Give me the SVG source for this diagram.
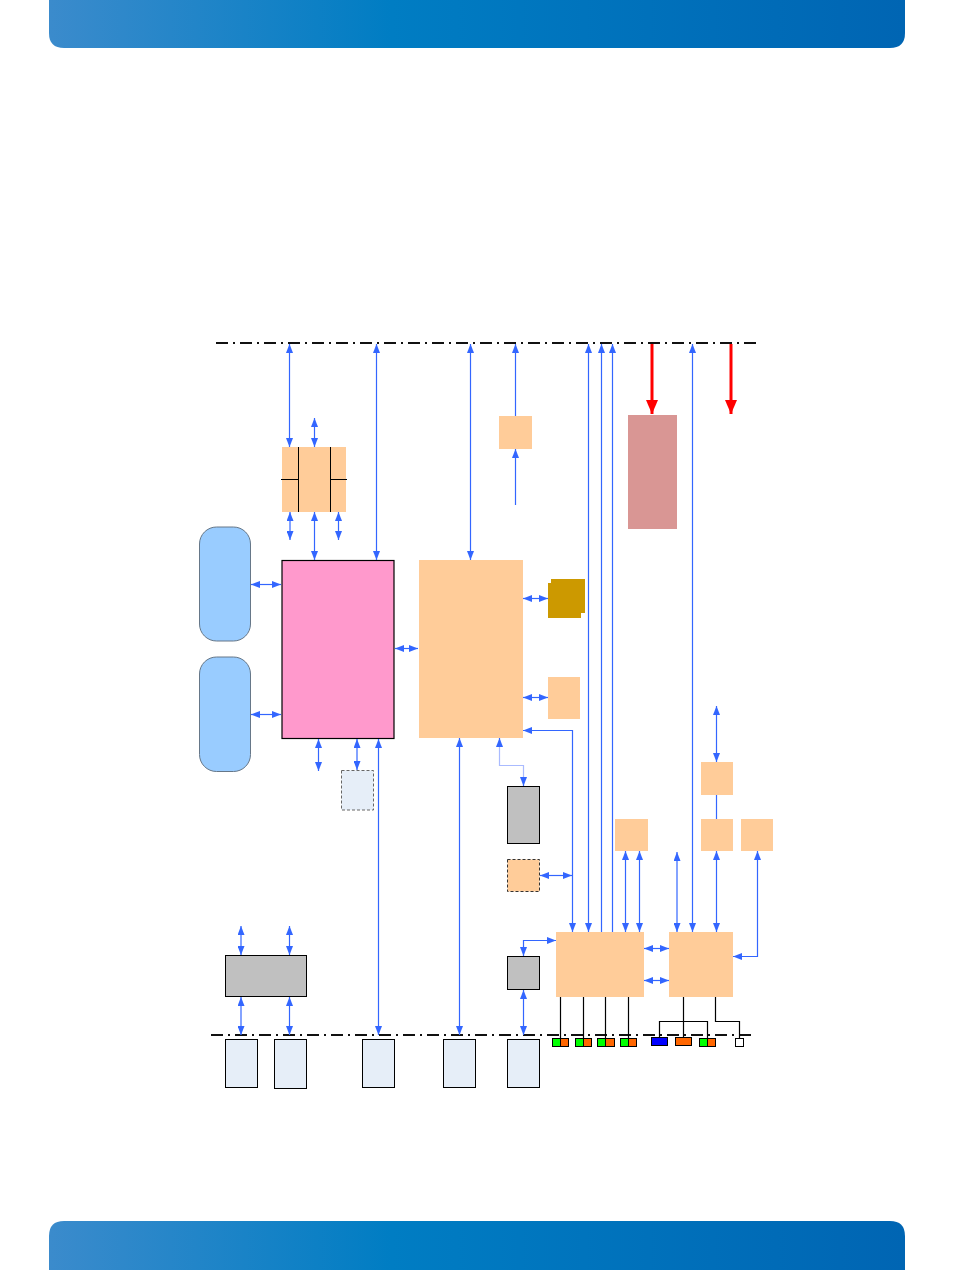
<svg xmlns="http://www.w3.org/2000/svg" width="954" height="1270" viewBox="0 0 954 1270">
<defs>
<linearGradient id="hdr" x1="0" y1="0" x2="1" y2="0">
<stop offset="0" stop-color="#3b8bcc"/>
<stop offset="0.4" stop-color="#007dc3"/>
<stop offset="1" stop-color="#0065b3"/>
</linearGradient>
<marker id="a" viewBox="0 0 9 7" refX="9" refY="3.5" markerWidth="9" markerHeight="7" markerUnits="userSpaceOnUse" orient="auto-start-reverse"><path d="M0,0 L9,3.5 L0,7 z" fill="#3366ff"/></marker>
<marker id="r" viewBox="0 0 14 12" refX="14" refY="6" markerWidth="14" markerHeight="12" markerUnits="userSpaceOnUse" orient="auto"><path d="M0,0 L14,6 L0,12 z" fill="#ff0000"/></marker>
<style>
.or{fill:#ffcc99}
.pale{fill:#e6eef8;stroke:#000;stroke-width:1}
.grey{fill:#c0c0c0;stroke:#000;stroke-width:1}
.w{fill:none;stroke:#3366ff;stroke-width:1.2}
.wl{fill:none;stroke:#aabbff;stroke-width:1.2}
.b2{marker-start:url(#a);marker-end:url(#a)}
.e{marker-end:url(#a)}
.s{marker-start:url(#a)}
.dd{fill:none;stroke:#111;stroke-width:2;stroke-dasharray:12 5 2 5}
.k{fill:none;stroke:#000;stroke-width:1.2}
.red{fill:none;stroke:#ff0000;stroke-width:3;marker-end:url(#r)}
.blk{fill:none;stroke:#000;stroke-width:1}
</style>
</defs>
<rect width="954" height="1270" fill="#fff"/>
<path d="M49,0 H905 V33 Q905,48 890,48 H64 Q49,48 49,33 Z" fill="url(#hdr)"/>
<path d="M49,1270 V1236 Q49,1221 64,1221 H890 Q905,1221 905,1236 V1270 Z" fill="url(#hdr)"/>

<g id="busTop"><line class="dd" x1="216" y1="343" x2="760" y2="343"/></g>
<g id="busBottom"><line class="dd" x1="211" y1="1035" x2="752" y2="1035"/></g>

<g id="switch">
<rect class="or" x="282" y="447" width="64" height="65"/>
<line class="blk" x1="298.5" y1="447" x2="298.5" y2="512" stroke-width="1.5"/>
<line class="blk" x1="330.5" y1="447" x2="330.5" y2="512" stroke-width="1.5"/>
<line class="blk" x1="281" y1="479.5" x2="298.5" y2="479.5"/>
<line class="blk" x1="330.5" y1="479.5" x2="347" y2="479.5"/>
</g>
<g id="mem1"><rect x="199.5" y="527" width="51" height="114" rx="17" fill="#99ccff" stroke="#667788" stroke-width="1"/></g>
<g id="mem2"><rect x="199.5" y="657" width="51" height="114.5" rx="17" fill="#99ccff" stroke="#667788" stroke-width="1"/></g>
<g id="cpu"><rect x="282" y="560.5" width="112" height="178" fill="#ff99cc" stroke="#000" stroke-width="1.2"/></g>
<g id="dashedPale"><rect x="341.5" y="770.5" width="32" height="39.5" fill="#e6eef8" stroke="#666" stroke-width="1" stroke-dasharray="3 2"/></g>
<g id="chipset"><rect class="or" x="419" y="560" width="104" height="178"/></g>
<g id="gold">
<rect x="551" y="579" width="34" height="34" fill="#cc9900"/>
<rect x="548" y="583" width="33" height="35" fill="#cc9900"/>
</g>
<g id="smallOr"><rect class="or" x="548" y="677" width="32" height="42"/></g>
<g id="topOr"><rect class="or" x="499" y="416" width="33" height="33"/></g>
<g id="redBox"><rect x="628" y="415" width="49" height="114" fill="#d99694"/></g>
<g id="greyTall"><rect class="grey" x="507.5" y="786.5" width="32" height="57"/></g>
<g id="dashedOr"><rect x="507.5" y="859.5" width="32" height="32" fill="#ffcc99" stroke="#333" stroke-width="1" stroke-dasharray="3 2"/></g>
<g id="or615"><rect class="or" x="615" y="819" width="33" height="32"/></g>
<g id="or701a"><rect class="or" x="701" y="762" width="32" height="33"/></g>
<g id="or701b"><rect class="or" x="701" y="819" width="32" height="32"/></g>
<g id="or741"><rect class="or" x="741" y="819" width="32" height="32"/></g>
<g id="hubA"><rect class="or" x="556" y="932" width="88" height="65"/></g>
<g id="hubB"><rect class="or" x="669" y="932" width="64" height="65"/></g>
<g id="greyWide"><rect class="grey" x="225.5" y="955.5" width="81" height="41"/></g>
<g id="greySmall"><rect class="grey" x="507.5" y="956.5" width="32" height="33"/></g>
<g id="p1"><rect class="pale" x="225.5" y="1039.5" width="32" height="48"/></g>
<g id="p2"><rect class="pale" x="274.5" y="1039.5" width="32" height="49"/></g>
<g id="p3"><rect class="pale" x="362.5" y="1039.5" width="32" height="48"/></g>
<g id="p4"><rect class="pale" x="443.5" y="1039.5" width="32" height="48"/></g>
<g id="p5"><rect class="pale" x="507.5" y="1039.5" width="32" height="48"/></g>
<g id="ports">
<rect x="552.5" y="1038.5" width="8" height="8" fill="#00ff00" stroke="#000"/><rect x="560.5" y="1038.5" width="8" height="8" fill="#ff6600" stroke="#000"/>
<rect x="575.5" y="1038.5" width="8" height="8" fill="#00ff00" stroke="#000"/><rect x="583.5" y="1038.5" width="8" height="8" fill="#ff6600" stroke="#000"/>
<rect x="597.5" y="1038.5" width="8" height="8" fill="#00ff00" stroke="#000"/><rect x="605.5" y="1038.5" width="9" height="8" fill="#ff6600" stroke="#000"/>
<rect x="620.5" y="1038.5" width="8" height="8" fill="#00ff00" stroke="#000"/><rect x="628.5" y="1038.5" width="8" height="8" fill="#ff6600" stroke="#000"/>
<rect x="651.5" y="1037.5" width="16" height="8" fill="#0000ff" stroke="#000"/>
<rect x="675.5" y="1037.5" width="16" height="8" fill="#ff6600" stroke="#000"/>
<rect x="699.5" y="1038.5" width="8" height="8" fill="#00ff00" stroke="#000"/><rect x="707.5" y="1038.5" width="8" height="8" fill="#ff6600" stroke="#000"/>
<rect x="735.5" y="1038.5" width="8" height="8" fill="#fff" stroke="#000"/>
</g>

<g id="connectors">
<line class="w b2" x1="289.5" y1="344" x2="289.5" y2="447"/>
<line class="w b2" x1="314.5" y1="418" x2="314.5" y2="447"/>
<line class="w b2" x1="290" y1="512" x2="290" y2="540"/>
<line class="w b2" x1="314.5" y1="512" x2="314.5" y2="560"/>
<line class="w b2" x1="338.5" y1="512" x2="338.5" y2="540"/>
<line class="w b2" x1="376.5" y1="344" x2="376.5" y2="560"/>
<line class="w b2" x1="470.5" y1="344" x2="470.5" y2="560"/>
<line class="w s" x1="515.5" y1="344" x2="515.5" y2="416"/>
<line class="w s" x1="515.5" y1="449" x2="515.5" y2="505"/>
<line class="w b2" x1="251" y1="584.5" x2="281" y2="584.5"/>
<line class="w b2" x1="251" y1="714.5" x2="281" y2="714.5"/>
<line class="w b2" x1="395" y1="648.5" x2="418" y2="648.5"/>
<line class="w b2" x1="523" y1="598.5" x2="548" y2="598.5"/>
<line class="w b2" x1="523" y1="697.5" x2="548" y2="697.5"/>
<line class="w b2" x1="318.5" y1="739" x2="318.5" y2="771"/>
<line class="w b2" x1="357" y1="739" x2="357" y2="770"/>
<line class="w b2" x1="378.5" y1="739" x2="378.5" y2="1035"/>
<line class="w b2" x1="459.5" y1="738" x2="459.5" y2="1035"/>
<polyline class="wl" points="499.5,740 499.5,765.5 523.5,765.5 523.5,780"/>
<line class="w s" x1="499.5" y1="738" x2="499.5" y2="745"/>
<line class="w e" x1="523.5" y1="777" x2="523.5" y2="786"/>
<polyline class="w b2" points="523,730.5 572.5,730.5 572.5,932"/>
<line class="w b2" x1="540" y1="875.5" x2="572" y2="875.5"/>
<line class="w b2" x1="588.5" y1="344" x2="588.5" y2="932"/>
<line class="w s" x1="601.5" y1="344" x2="601.5" y2="932"/>
<line class="w s" x1="612.5" y1="344" x2="612.5" y2="932"/>
<line class="w b2" x1="625.5" y1="851" x2="625.5" y2="932"/>
<line class="w b2" x1="639.5" y1="851" x2="639.5" y2="932"/>
<line class="w b2" x1="692.5" y1="344" x2="692.5" y2="932"/>
<line class="w b2" x1="677" y1="852" x2="677" y2="932"/>
<line class="w b2" x1="716.5" y1="706" x2="716.5" y2="762"/>
<line class="w" x1="716.5" y1="795" x2="716.5" y2="819"/>
<line class="w b2" x1="716.5" y1="851" x2="716.5" y2="932"/>
<polyline class="w b2" points="757.5,851 757.5,956.5 733,956.5"/>
<line class="w b2" x1="644" y1="948.5" x2="669" y2="948.5"/>
<line class="w b2" x1="644" y1="980.5" x2="669" y2="980.5"/>
<polyline class="w b2" points="523.5,956 523.5,940.5 556,940.5"/>
<line class="w b2" x1="523.5" y1="990" x2="523.5" y2="1035"/>
<line class="w b2" x1="241" y1="926" x2="241" y2="955"/>
<line class="w b2" x1="289.5" y1="926" x2="289.5" y2="955"/>
<line class="w b2" x1="241" y1="997" x2="241" y2="1035"/>
<line class="w b2" x1="289.5" y1="997" x2="289.5" y2="1035"/>
<line class="red" x1="652" y1="344" x2="652" y2="414"/>
<line class="red" x1="731" y1="344" x2="731" y2="414"/>
<line class="k" x1="560.5" y1="997" x2="560.5" y2="1038"/>
<line class="k" x1="583.5" y1="997" x2="583.5" y2="1038"/>
<line class="k" x1="605.5" y1="997" x2="605.5" y2="1038"/>
<line class="k" x1="628.5" y1="997" x2="628.5" y2="1038"/>
<line class="k" x1="683.5" y1="997" x2="683.5" y2="1037"/>
<polyline class="k" points="659.5,1037 659.5,1021.5 707.5,1021.5 707.5,1038"/>
<polyline class="k" points="715.5,997 715.5,1021.5 739.5,1021.5 739.5,1038"/>
</g>
</svg>
